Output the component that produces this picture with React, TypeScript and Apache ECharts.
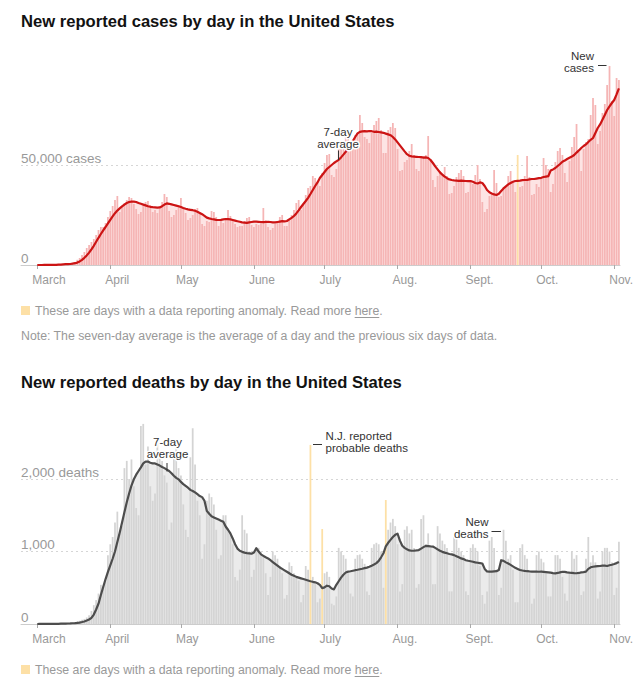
import React, { useEffect, useRef } from "react";
import * as echarts from "echarts";

// ---------- data ----------
const START_DATE = "2020-03-01";
const monthTickDates = ["2020-03-01", "2020-04-01", "2020-05-01", "2020-06-01", "2020-07-01", "2020-08-01", "2020-09-01", "2020-10-01", "2020-11-01"];
const monthTickLabels = ["March", "April", "May", "June", "July", "Aug.", "Sept.", "Oct.", "Nov."];

// New reported cases per day, thousands (Mar 1 – Nov 3)
const casesDaily = [
  // March
  0.03, 0.02, 0.03, 0.04, 0.07, 0.1, 0.13, 0.12, 0.2, 0.29, 0.4, 0.5, 0.65, 0.62, 0.8, 0.95, 1.5, 2.6, 3.5, 5.0, 6.5, 8.5, 10.0, 11.5, 13.0, 15.0, 17.5, 19.0, 19.0, 21.0, 24.0,
  // April
  27.0, 29.5, 32.5, 34.5, 26.5, 29.0, 31.0, 32.5, 34.0, 33.5, 30.5, 28.0, 25.5, 26.5, 29.5, 31.5, 32.0, 30.0, 26.5, 27.5, 26.0, 29.0, 31.5, 35.5, 34.0, 27.0, 24.0, 25.0, 27.5, 30.0,
  // May
  33.5, 28.5, 26.0, 22.5, 23.5, 25.0, 28.0, 28.5, 26.0, 20.5, 19.5, 22.0, 21.5, 27.0, 26.5, 24.0, 19.5, 22.0, 21.0, 22.5, 27.5, 24.5, 22.5, 20.5, 19.0, 19.5, 19.5, 22.0, 23.5, 24.0, 20.0,
  // June
  19.0, 20.5, 20.0, 21.5, 28.5, 22.5, 19.0, 17.5, 18.5, 20.5, 22.0, 24.0, 25.0, 19.5, 19.5, 23.0, 25.0, 27.5, 31.0, 32.5, 27.5, 30.0, 35.0, 38.5, 39.5, 44.5, 43.5, 41.0, 39.5, 46.0,
  // July
  51.0, 55.0, 55.5, 45.0, 44.0, 48.0, 58.0, 61.0, 59.5, 66.5, 63.0, 60.5, 61.5, 65.0, 66.0, 75.0, 71.0, 64.0, 63.0, 61.0, 66.0, 70.0, 72.0, 73.5, 67.5, 56.0, 56.0, 67.5, 69.0, 71.0, 68.5,
  // August
  58.0, 47.0, 47.5, 51.5, 52.5, 57.0, 60.5, 55.0, 48.0, 47.0, 53.5, 54.5, 55.0, 64.5, 53.0, 42.5, 39.0, 44.5, 47.0, 45.5, 49.0, 44.5, 35.5, 36.0, 39.5, 44.0, 46.0, 47.5, 44.5, 36.0, 36.5,
  // September
  42.0, 40.5, 45.0, 50.0, 43.0, 31.5, 26.5, 28.0, 34.5, 35.5, 47.5, 41.0, 34.0, 34.5, 39.0, 39.0, 44.5, 47.0, 42.0, 36.5, 55.0, 39.0, 39.5, 44.5, 54.5, 44.0, 35.0, 35.5, 40.5, 39.0,
  // October
  44.0, 53.5, 50.0, 48.0, 36.5, 40.5, 51.5, 57.0, 58.5, 55.0, 46.0, 41.5, 52.0, 59.0, 64.0, 70.5, 56.5, 47.0, 58.0, 61.5, 63.0, 75.0, 83.5, 80.0, 60.5, 67.0, 76.0, 80.5, 90.0, 99.5, 82.0,
  // November
  74.5, 93.5, 92.5,
];

// 7-day average of cases, thousands
const casesAvg = [
  0.0, 0.0, 0.0, 0.1, 0.1, 0.1, 0.1, 0.1, 0.1, 0.2, 0.2, 0.3, 0.4, 0.4, 0.5,
  0.7, 0.9, 1.2, 1.8, 2.6, 3.6, 4.8, 6.2, 7.8, 9.6, 11.6, 13.6, 15.5, 17.3, 19.0, 20.8,
  22.6, 24.3, 25.9, 27.2, 28.3, 29.3, 30.2, 31.0, 31.5, 31.7,
  31.7, 31.5, 31.0, 30.6, 30.2, 29.8, 29.4, 29.1, 28.9, 28.8,
  28.7, 28.8, 29.4, 30.2, 30.8, 30.6, 30.3, 30.0, 29.7, 29.4,
  29.0, 28.5, 28.1, 27.8, 27.6, 27.4, 27.1, 26.6, 26.0, 25.4,
  24.6, 23.7, 23.3, 23.0, 22.8, 22.6, 22.5, 22.6, 22.8, 23.0,
  22.9, 22.8, 22.5, 22.2, 21.9, 21.6, 21.3, 21.2, 21.1, 21.3, 21.5,
  21.7, 21.7, 21.6, 21.5, 21.4, 21.5, 21.6, 21.5, 21.3, 21.3,
  21.5, 21.7, 21.9, 21.8, 22.0, 22.8, 23.6, 24.5, 25.8, 27.3,
  29.0, 30.5, 32.0, 33.6, 35.5, 37.5, 39.5, 41.3, 43.5, 45.0,
  46.5, 48.0, 49.0, 50.0, 51.0, 51.8, 52.6, 53.8, 55.2, 56.6,
  58.2, 60.0, 62.0, 64.0, 65.8, 66.6, 66.8, 66.9, 66.8, 67.0,
  66.9, 66.6, 66.7, 66.5, 66.3, 66.1, 65.7, 65.3, 64.9, 64.0, 62.8,
  61.3, 59.8, 58.3, 56.8, 55.4, 54.6, 54.3, 54.2, 54.1, 54.0,
  53.9, 53.7, 53.8, 53.5, 52.5, 51.0, 49.3, 47.8, 46.3, 45.2,
  44.2, 43.4, 42.8, 42.5, 42.3, 42.2, 42.1, 42.2, 42.1, 42.0, 41.9,
  42.0, 41.6, 41.0, 40.8, 41.3, 41.0, 39.5, 37.5, 36.4, 35.8,
  35.3, 35.0, 35.6, 37.0, 38.3, 39.3, 40.3, 41.0, 41.6, 42.0,
  42.1, 42.2, 42.4, 42.5, 42.5, 42.8, 43.0, 43.0, 43.2, 43.4,
  43.6, 44.0, 44.2, 44.4, 47.2, 47.8, 48.5, 49.5, 50.5, 51.6,
  52.2, 53.0, 53.6, 54.2, 55.0, 56.2, 57.3, 58.5, 59.5, 60.3,
  61.5, 62.6, 63.5, 66.0, 68.5, 70.3, 72.6, 75.0, 77.5, 79.3, 81.0,
  82.5, 85.3, 88.3,
];
const caseAnomalyDates = ["2020-09-21"];

// New reported deaths per day
const deathsDaily = [
  // March
  1, 5, 1, 4, 1, 2, 3, 4, 4, 6, 8, 8, 10, 11, 12, 19, 23, 38, 45, 58, 70, 90, 120, 180, 260, 330, 420, 540, 520, 600, 950,
  // April
  1100, 1200, 1400, 1550, 1250, 1350, 2150, 2250, 2000, 2270, 1900, 1600, 1500, 2730, 2760, 2200, 2450, 1900, 1700, 1800, 2500, 2300, 2250, 2050, 1950, 1300, 1400, 2350, 2450, 2150,
  // May
  2050, 1650, 1300, 1200, 2300, 2700, 2200, 1700, 1500, 900, 1100, 1700, 1800, 1750, 1650, 1300, 900, 950, 1500, 1500, 1300, 1250, 1100, 650, 600, 750, 1500, 1300, 1250, 1000, 650,
  // June
  750, 1050, 1050, 1000, 950, 700, 400, 650, 1000, 950, 900, 800, 700, 350, 400, 850, 800, 700, 650, 600, 300, 400, 800, 750, 2470, 650, 550, 300, 350, 1310,
  // July
  700, 720, 650, 280, 260, 380, 1050, 1000, 950, 900, 700, 420, 380, 900, 950, 960, 900, 830, 450, 400, 1050, 1100, 1120, 1100, 1000, 500, 1710, 1300, 1400, 1450, 1350,
  // August
  1100, 450, 550, 1300, 1350, 1250, 1300, 1050, 500, 550, 1450, 1500, 1100, 1250, 1050, 550, 550, 1350, 1250, 1150, 1100, 1050, 450, 450, 1200, 1200, 1050, 1000, 950, 450, 400,
  // September
  1050, 1100, 1050, 1000, 800, 400, 280, 450, 1150, 1200, 1050, 750, 400, 500, 1300, 1150, 900, 950, 750, 300, 300, 1050, 1100, 950, 900, 700, 280, 350, 950, 1000,
  // October
  900, 850, 700, 380, 380, 700, 950, 950, 900, 650, 420, 320, 700, 1000, 900, 950, 700, 400, 450, 900, 1200, 850, 950, 850, 350, 450, 1000, 1050, 1050, 1000, 850,
  // November
  400, 500, 1135,
];

// 7-day average of deaths
const deathsAvg = [
  0, 1, 1, 2, 2, 2, 2, 3, 3, 3, 4, 5, 6, 7, 8,
  10, 12, 15, 20, 27, 35, 47, 62, 85, 130, 200, 280, 400, 510, 620, 720,
  810, 900, 1000, 1130, 1260, 1400, 1540, 1680, 1800, 1910,
  1995, 2060, 2110, 2160, 2215, 2240, 2240, 2225, 2215, 2215,
  2200, 2185, 2165, 2150, 2130, 2110, 2080, 2045, 2015, 1995,
  1960, 1930, 1905, 1880, 1850, 1835, 1815, 1790, 1765, 1750,
  1700, 1560, 1520, 1485, 1470, 1455, 1440, 1425, 1410, 1345,
  1300, 1250, 1180, 1100, 1040, 1010, 995, 985, 978, 975, 970,
  985, 1045, 1000, 960, 940, 920, 905, 880, 855, 830,
  805, 780, 760, 740, 720, 700, 680, 665, 650, 640,
  630, 620, 610, 600, 590, 582, 575, 562, 540, 495,
  505, 528, 520, 490, 478, 540, 590, 640, 680, 710,
  722, 728, 735, 742, 748, 755, 762, 770, 778, 790,
  805, 820, 840, 870, 920, 975, 1070, 1120, 1160, 1200, 1230,
  1245, 1150, 1080, 1050, 1030, 1015, 1010, 1012, 1015, 1020,
  1040, 1060, 1078, 1075, 1070, 1068, 1050, 1030, 1010, 995,
  985, 975, 965, 960, 950, 935, 920, 905, 895, 880, 872,
  865, 858, 850, 845, 840, 835, 760, 725, 722, 722,
  725, 728, 745, 880, 870, 850, 835, 815, 795, 775,
  760, 745, 738, 732, 728, 725, 723, 722, 722, 721,
  722, 720, 716, 712, 708, 702, 699, 704, 712, 720,
  718, 712, 708, 705, 702, 700, 704, 712, 716, 722,
  760, 782, 790, 795, 798, 800, 805, 805, 800, 810, 818,
  828, 840, 856,
];
const deathAnomalyDates = ["2020-06-25", "2020-06-30", "2020-07-27"];

const caseTickValues = [0, 50000];
const caseTickLabels = ["0", "50,000 cases"];
const deathTickValues = [0, 1000, 2000];
const deathTickLabels = ["0", "1,000", "2,000 deaths"];

// ---------- styling ----------
const FONT = '"Liberation Sans", Arial, Helvetica, sans-serif';
const GRAY_TEXT = "#999999";
const ANOMALY = "#fde0a6";
const NOTE_SIZE = 12.3;
const LEGEND_LEAD = "These are days with a data reporting anomaly. Read more ";
const LEGEND_LINK = "here";

const startMs = Date.parse(START_DATE + "T00:00:00Z");
const categories = casesDaily.map((_, i) => new Date(startMs + i * 86400000).toISOString().slice(0, 10));

function isMonthTick(_: number, value: string) {
  return monthTickDates.indexOf(value) >= 0;
}
function monthLabel(value: string) {
  const i = monthTickDates.indexOf(value);
  return i >= 0 ? monthTickLabels[i] : "";
}

function gridAxes(gridLine: number, gridBar: number, max: number, interval: number, tickValues: number[], tickLabels: string[]) {
  const xAxes = [
    {
      gridIndex: gridLine, type: "value", min: 0, max: 1,
      axisLine: { show: true, lineStyle: { color: "#cccccc", width: 1 } },
      axisTick: { show: false }, axisLabel: { show: false }, splitLine: { show: false },
    },
    {
      gridIndex: gridBar, type: "category", data: categories, boundaryGap: true,
      axisLine: { show: false },
      axisTick: { show: true, alignWithLabel: true, interval: isMonthTick, length: 4, lineStyle: { color: "#aaaaaa" } },
      axisLabel: {
        interval: isMonthTick, formatter: monthLabel, color: GRAY_TEXT, fontSize: 12, fontFamily: FONT,
        align: "left", padding: [0, 0, 0, -5], margin: 9,
      },
      splitLine: { show: false },
    },
  ];
  const yAxes = [
    {
      gridIndex: gridLine, type: "value", min: 0, max, interval,
      axisLine: { show: false }, axisTick: { show: false },
      splitLine: { show: true, showMinLine: false, showMaxLine: false, lineStyle: { color: "#d6d6d6", type: [2, 3], width: 1 } },
      axisLabel: {
        inside: true, margin: 0, align: "left", verticalAlign: "bottom", color: GRAY_TEXT, fontSize: 13.5, fontFamily: FONT,
        formatter: (v: number) => { const i = tickValues.indexOf(v); return i >= 0 ? tickLabels[i] : ""; },
      },
    },
    { gridIndex: gridBar, type: "value", min: 0, max, show: false, splitLine: { show: false } },
  ];
  return { xAxes, yAxes };
}

function panelSeries(axisIndex: number, daily: number[], avg: number[], scale: number, anomalies: string[], barColor: string, areaColor: string, lineColor: string) {
  return [
    {
      type: "line", xAxisIndex: axisIndex, yAxisIndex: axisIndex, data: avg.map((v) => v * scale),
      symbol: "none", silent: true, z: 1, lineStyle: { width: 0 }, areaStyle: { color: areaColor, opacity: 1 },
    },
    {
      type: "bar", xAxisIndex: axisIndex, yAxisIndex: axisIndex, silent: true, z: 2,
      barCategoryGap: "25%", itemStyle: { color: barColor },
      data: daily.map((v, i) => anomalies.indexOf(categories[i]) >= 0 ? { value: v * scale, itemStyle: { color: ANOMALY } } : v * scale),
    },
    {
      type: "line", xAxisIndex: axisIndex, yAxisIndex: axisIndex, data: avg.map((v) => v * scale),
      symbol: "none", silent: true, z: 3, lineStyle: { color: lineColor, width: 2.2, join: "round" },
    },
  ];
}

function label(x: number, y: number, text: string, align: string, size = 11.5) {
  return {
    type: "text", x, y, z: 100,
    style: {
      text, fill: "#333333", font: `${size}px ${FONT}`, align, verticalAlign: "middle", lineHeight: 12.5,
      stroke: "#ffffff", lineWidth: 3,
    },
  };
}
function seg(x1: number, y1: number, x2: number, y2: number, color = "#333333") {
  return { type: "line", z: 100, shape: { x1, y1, x2, y2 }, style: { stroke: color, lineWidth: 1 } };
}

export default function App() {
  const ref = useRef<HTMLDivElement>(null);
  useEffect(() => {
    if (!ref.current) return;
    const chart = echarts.init(ref.current, undefined, { renderer: "svg" });

    const ctx = document.createElement("canvas").getContext("2d")!;
    ctx.font = `${NOTE_SIZE}px ${FONT}`;
    const leadW = ctx.measureText(LEGEND_LEAD).width;
    const linkW = ctx.measureText(LEGEND_LINK).width;

    const cases = gridAxes(0, 1, 100000, 50000, caseTickValues, caseTickLabels);
    const deaths = gridAxes(2, 3, 3000, 1000, deathTickValues, deathTickLabels);

    const legend = (y: number) => [
      { type: "rect", shape: { x: 21, y: y - 5, width: 9, height: 9 }, style: { fill: ANOMALY } },
      { type: "text", x: 35, y, style: { text: LEGEND_LEAD, fill: GRAY_TEXT, font: `${NOTE_SIZE}px ${FONT}`, verticalAlign: "middle" } },
      { type: "text", x: 35 + leadW, y, style: { text: LEGEND_LINK + ".", fill: GRAY_TEXT, font: `${NOTE_SIZE}px ${FONT}`, verticalAlign: "middle" } },
      seg(35 + leadW, y + 6.5, 35 + leadW + linkW, y + 6.5, GRAY_TEXT),
    ];

    chart.setOption({
      animation: false,
      backgroundColor: "#ffffff",
      grid: [
        { left: 21, width: 599, top: 65, height: 200 },
        { left: 36.1, width: 584, top: 65, height: 200 },
        { left: 21, width: 599, top: 406.5, height: 217.5 },
        { left: 36.1, width: 584, top: 406.5, height: 217.5 },
      ],
      xAxis: [...cases.xAxes, ...deaths.xAxes],
      yAxis: [...cases.yAxes, ...deaths.yAxes],
      series: [
        ...panelSeries(1, casesDaily, casesAvg, 1000, caseAnomalyDates, "#f5b5b5", "#fde4e4", "#cc1414"),
        ...panelSeries(3, deathsDaily, deathsAvg, 1, deathAnomalyDates, "#d4d4d4", "#ebebeb", "#4d4d4d"),
      ],
      graphic: [
        { type: "text", x: 21, y: 21, style: { text: "New reported cases by day in the United States", fill: "#121212", font: `bold 16.6px ${FONT}`, verticalAlign: "middle" } },
        ...legend(311),
        { type: "text", x: 21, y: 336, style: { text: "Note: The seven-day average is the average of a day and the previous six days of data.", fill: GRAY_TEXT, font: `${NOTE_SIZE}px ${FONT}`, verticalAlign: "middle" } },
        { type: "text", x: 21, y: 382, style: { text: "New reported deaths by day in the United States", fill: "#121212", font: `bold 16.6px ${FONT}`, verticalAlign: "middle" } },
        ...legend(670),
        // cases annotations
        label(338, 138, "7-day\naverage", "center"),
        seg(338.5, 150.5, 338.5, 160),
        label(594, 62, "New\ncases", "right"),
        seg(598, 65.5, 606.5, 65.5),
        // deaths annotations
        label(167.5, 448, "7-day\naverage", "center"),
        seg(167, 463, 167, 471.5),
        label(325.5, 442, "N.J. reported\nprobable deaths", "left"),
        seg(313, 444.5, 322, 444.5),
        label(488.5, 528, "New\ndeaths", "right"),
        seg(491.5, 531.5, 501, 531.5),
      ],
    });
    return () => chart.dispose();
  }, []);
  return <div ref={ref} style={{ position: "fixed", left: 0, top: 0, width: 642, height: 684 }} />;
}
